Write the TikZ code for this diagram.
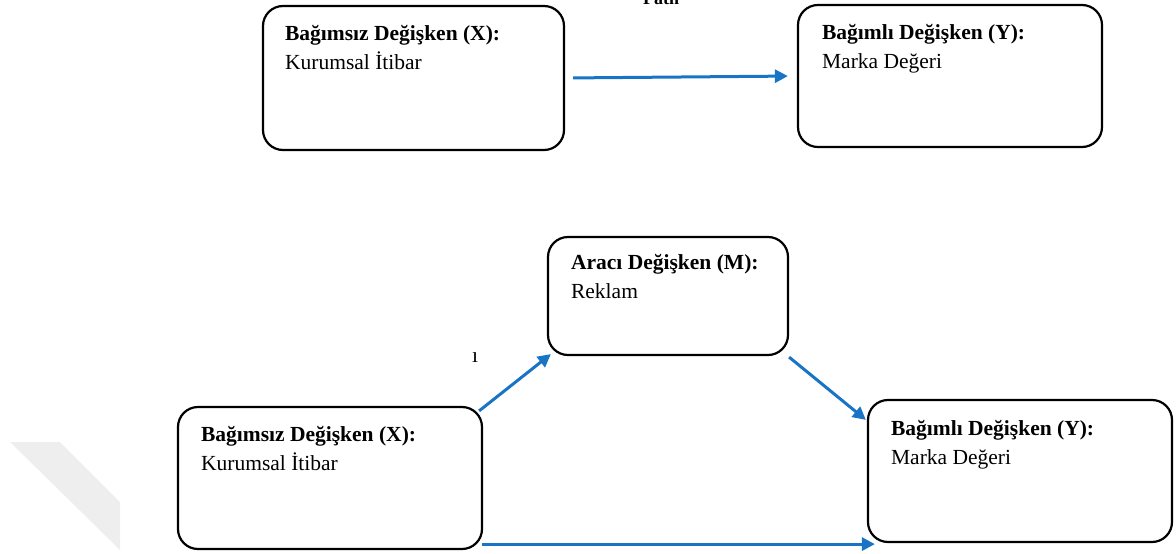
\documentclass[tikz,border=0pt]{standalone}
\usepackage{fontspec}
\setmainfont{Liberation Serif}
\usetikzlibrary{arrows.meta,calc}
\definecolor{linkblue}{HTML}{1A74C6}
\definecolor{markgray}{HTML}{EEEEEE}
\tikzset{
  varbox/.style={draw=black, line width=2.2pt, rounded corners=20pt, inner sep=0pt},
  varhead/.style={anchor=base west, inner sep=0pt,
                  font=\fontsize{21.5}{26}\selectfont\bfseries},
  varname/.style={anchor=base west, inner sep=0pt,
                  font=\fontsize{21.5}{26}\selectfont},
  link/.style={draw=linkblue, line width=3pt,
               -{Triangle[length=13pt,width=13pt]}},
}
\begin{document}
\begin{tikzpicture}[x=1pt,y=-1pt]
  \useasboundingbox (0,0) rectangle (1176,554);
  \clip (0,0) rectangle (1176,554);
  % faint corner mark
  \fill[markgray] (10,442) -- (60,442) -- (120,502) -- (120,550) -- cycle;

  % heading partly above the page edge
  \node[anchor=base west, inner sep=0pt, font=\fontsize{18}{22}\selectfont\bfseries]
    (head) at (643,5) {Path};

  % total effect: X -> Y
  \node[varbox, minimum width=301pt, minimum height=144pt] (tx) at (413.5,78) {};
  \node[varbox, minimum width=304pt, minimum height=142pt] (ty) at (950,76) {};
  \node[varhead] (txh) at ($(tx.north west)+(23,36)$) {Bağımsız Değişken (X):};
  \node[varname] (txn) at ($(txh.base west)+(0,28.5)$) {Kurumsal İtibar};
  \node[varhead] (tyh) at ($(ty.north west)+(25,36)$) {Bağımlı Değişken (Y):};
  \node[varname] (tyn) at ($(tyh.base west)+(0,28.5)$) {Marka Değeri};
  \draw[link, shorten <=8pt, shorten >=9pt] (tx.east) -- (ty.west);

  % mediation: X -> M -> Y and X -> Y
  \node[varbox, minimum width=240pt, minimum height=118pt] (bm) at (668,296) {};
  \node[varbox, minimum width=304pt, minimum height=142pt] (bx) at (330,478) {};
  \node[varbox, minimum width=304pt, minimum height=142pt] (by) at (1020,471) {};
  \node[varhead] (bmh) at ($(bm.north west)+(24,34)$) {Aracı Değişken (M):};
  \node[varname] (bmn) at ($(bmh.base west)+(0,28.5)$) {Reklam};
  \node[varhead] (bxh) at ($(bx.north west)+(24,36)$) {Bağımsız Değişken (X):};
  \node[varname] (bxn) at ($(bxh.base west)+(0,28.5)$) {Kurumsal İtibar};
  \node[varhead] (byh) at ($(by.north west)+(24,37)$) {Bağımlı Değişken (Y):};
  \node[varname] (byn) at ($(byh.base west)+(0,28.5)$) {Marka Değeri};

  \node[anchor=base, inner sep=0pt, font=\fontsize{21.5}{26}\selectfont] (mk) at (475,362) {ı};

  \draw[link] ($(bx.north east)+(-4,5)$) -- ($(bm.south west)+(4,-2)$);
  \draw[link] ($(bm.south east)+(0,1)$) -- ($(by.north west)+(-1,21)$);
  \draw[link] ($(bx.south east)+(-1,-6)$) -- ($(by.south west)+(8,1)$);
\end{tikzpicture}
\end{document}
